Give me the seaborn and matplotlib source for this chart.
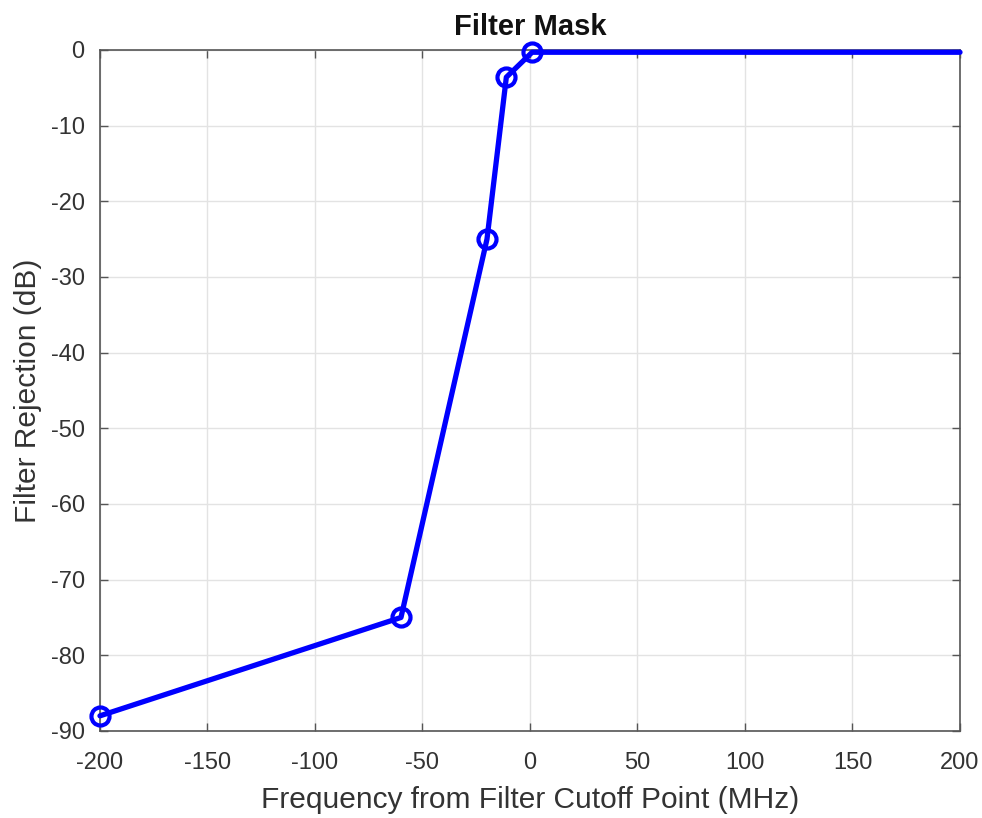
import matplotlib
matplotlib.use("Agg")
import matplotlib.pyplot as plt
import seaborn as sns
import numpy as np

# Filter mask breakpoints (MHz offset from cutoff, rejection in dB)
freq_mhz = [-200, -60, -20, -11, 1, 200]
rejection_db = [-88, -75, -25, -3.6, -0.3, -0.3]
marked_points = [0, 1, 2, 3, 4]

x_ticks = [-200, -150, -100, -50, 0, 50, 100, 150, 200]
y_ticks = [0, -10, -20, -30, -40, -50, -60, -70, -80, -90]

sns.set_theme(style="whitegrid")
plt.rcParams["font.family"] = ["Liberation Sans", "DejaVu Sans"]
plt.rcParams["axes.unicode_minus"] = False

fig = plt.figure(figsize=(9.82, 8.18), dpi=100)
ax = fig.add_axes([0.1018, 0.1064, 0.8758, 0.8325])

sns.lineplot(x=freq_mhz, y=rejection_db, ax=ax, color="#0000ff", linewidth=3.8,
             marker="o", markevery=marked_points, markersize=13,
             markerfacecolor="none", markeredgecolor="#0000ff", markeredgewidth=3)
for ln in ax.lines:
    ln.set_clip_on(False)
    ln.set_zorder(5)

ax.set_xlim(-200, 200)
ax.set_ylim(-90, 0)
ax.set_xticks(x_ticks)
ax.set_yticks(y_ticks)

text_color = "#333333"
ax.tick_params(axis="both", which="both", direction="in", length=6, width=1,
               colors="#555555", labelsize=17, labelcolor=text_color,
               top=True, right=True, bottom=True, left=True)
ax.tick_params(axis="x", pad=15)
ax.tick_params(axis="y", pad=11)
ax.grid(True, color="#e3e3e3", linewidth=1)
ax.set_facecolor("white")
for side in ["left", "right", "top", "bottom"]:
    ax.spines[side].set_visible(True)
    ax.spines[side].set_color("#555555")
    ax.spines[side].set_linewidth(1.2)

ax.set_xlabel("Frequency from Filter Cutoff Point (MHz)", fontsize=21.5, color=text_color, labelpad=9)
ax.set_ylabel("Filter Rejection (dB)", fontsize=21.5, color=text_color, labelpad=6)
ax.set_title("Filter Mask", fontsize=21, fontweight="bold", color="#111111", pad=11)

fig.savefig("out.png", dpi=100, facecolor="white")
